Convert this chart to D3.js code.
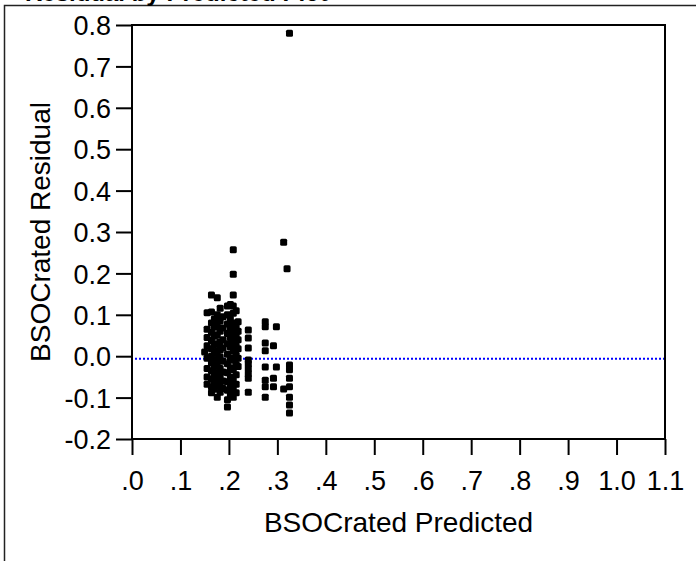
<!DOCTYPE html>
<html>
<head>
<meta charset="utf-8">
<script src="https://d3js.org/d3.v7.min.js"></script>
<style>
  body { margin: 0; background: #fff; }
  text { font-family: "Liberation Sans", Arial, sans-serif; fill: #000; }
</style>
</head>
<body>
<svg id="svg" width="696" height="561"></svg>
<script>
var predictedLevels = [0.150, 0.155, 0.164, 0.170, 0.176, 0.182, 0.188, 0.197, 0.203, 0.209,
                       0.215, 0.219, 0.240, 0.275, 0.292, 0.298, 0.313, 0.320, 0.325];
var residualsAtLevel = [
  [0.010],
  [0.105, 0.065, 0.045, 0.025, -0.005, -0.030, -0.050, -0.068],
  [0.148, 0.107, 0.080, 0.058, 0.038, 0.018, 0.000, -0.015, -0.035, -0.055, -0.074, -0.088],
  [0.090, 0.070, 0.048, 0.028, 0.008, -0.010, -0.025, -0.045, -0.062, -0.080],
  [0.141, 0.100, 0.075, 0.052, 0.030, 0.012, -0.008, -0.022, -0.040, -0.058, -0.072, -0.099],
  [0.116, 0.085, 0.060, 0.035, 0.015, -0.002, -0.030, -0.050, -0.065, -0.087],
  [0.095, 0.068, 0.040, 0.020, -0.012, -0.038, -0.060, -0.078],
  [0.121, 0.100, 0.078, 0.055, 0.030, 0.005, -0.018, -0.040, -0.062, -0.082, -0.105, -0.123],
  [0.125, 0.090, 0.065, 0.045, 0.022, -0.005, -0.028, -0.050, -0.070, -0.092],
  [0.257, 0.198, 0.148, 0.121, 0.104, 0.080, 0.058, 0.035, 0.012, -0.010, -0.032, -0.055, -0.078, -0.099],
  [0.110, 0.072, 0.048, 0.025, 0.002, -0.020, -0.045, -0.068, -0.088],
  [0.083, 0.060, 0.040, 0.018, -0.005, -0.025],
  [0.063, 0.044, 0.020, -0.009, -0.018, -0.030, -0.042, -0.053, -0.087],
  [0.083, 0.071, 0.032, 0.013, -0.026, -0.058, -0.074, -0.099],
  [0.025, -0.053, -0.074],
  [0.071, -0.026],
  [0.275, -0.079],
  [0.211],
  [0.780, -0.021, -0.033, -0.053, -0.074, -0.099, -0.118, -0.137]
];
var xTicks = [0, 0.1, 0.2, 0.3, 0.4, 0.5, 0.6, 0.7, 0.8, 0.9, 1.0, 1.1];
var yTicks = [-0.2, -0.1, 0, 0.1, 0.2, 0.3, 0.4, 0.5, 0.6, 0.7, 0.8];
var refLine = -0.006;

var points = [];
predictedLevels.forEach(function(p, i) {
  residualsAtLevel[i].forEach(function(r) { points.push({p: p, r: r}); });
});

var svg = d3.select("svg");
var plotLeft = 132, plotRight = 665, plotTop = 25, plotBottom = 439;

var x = d3.scaleLinear().domain([0, 1.1]).range([plotLeft, plotRight]);
var y = d3.scaleLinear().domain([-0.2, 0.8]).range([plotBottom, plotTop]);

// outer report frame, title cut off at the top
svg.append("rect").attr("x", 4.5).attr("y", 5.5).attr("width", 720).attr("height", 600)
   .attr("fill", "none").attr("stroke", "#222").attr("stroke-width", 1.5);
svg.append("text").attr("x", 25).attr("y", 1).attr("font-size", 24).attr("font-weight", "bold")
   .text("Residual by Predicted Plot");

// axes
var yAxis = svg.append("g").attr("transform", "translate(" + plotLeft + ",0)")
  .call(d3.axisLeft(y).tickValues(yTicks).tickSize(16).tickPadding(5)
        .tickFormat(function(d) { return d.toFixed(1); }));
var xAxis = svg.append("g").attr("transform", "translate(0," + plotBottom + ")")
  .call(d3.axisBottom(x).tickValues(xTicks).tickSize(16).tickPadding(16)
        .tickFormat(function(d) { return d < 1 ? d.toFixed(1).slice(1) : d.toFixed(1); }));
[yAxis, xAxis].forEach(function(a) {
  a.select(".domain").remove();
  a.selectAll(".tick line").attr("stroke", "#000").attr("stroke-width", 2);
  a.selectAll(".tick text").attr("font-size", 27).attr("font-family", "Liberation Sans, Arial, sans-serif");
});
yAxis.selectAll(".tick text").attr("dy", "0.36em");

svg.append("rect").attr("x", plotLeft).attr("y", plotTop)
   .attr("width", plotRight - plotLeft).attr("height", plotBottom - plotTop)
   .attr("fill", "none").attr("stroke", "#000").attr("stroke-width", 2);

// zero reference line
svg.append("line").attr("x1", plotLeft + 3).attr("x2", plotRight - 1)
   .attr("y1", y(refLine)).attr("y2", y(refLine))
   .attr("stroke", "#0000ff").attr("stroke-width", 2).attr("stroke-dasharray", "2,2");

// points
svg.append("g").selectAll("rect").data(points).enter().append("rect")
   .attr("x", function(d) { return x(d.p) - 3.5; })
   .attr("y", function(d) { return y(d.r) - 3.5; })
   .attr("width", 7).attr("height", 7).attr("rx", 1.5)
   .attr("fill", "#000");

// axis titles
svg.append("text").attr("x", (plotLeft + plotRight) / 2).attr("y", 532).attr("text-anchor", "middle")
   .attr("font-size", 28).text("BSOCrated Predicted");
svg.append("text").attr("transform", "translate(50," + (plotTop + plotBottom) / 2 + ") rotate(-90)")
   .attr("text-anchor", "middle").attr("font-size", 28).text("BSOCrated Residual");
</script>
</body>
</html>
